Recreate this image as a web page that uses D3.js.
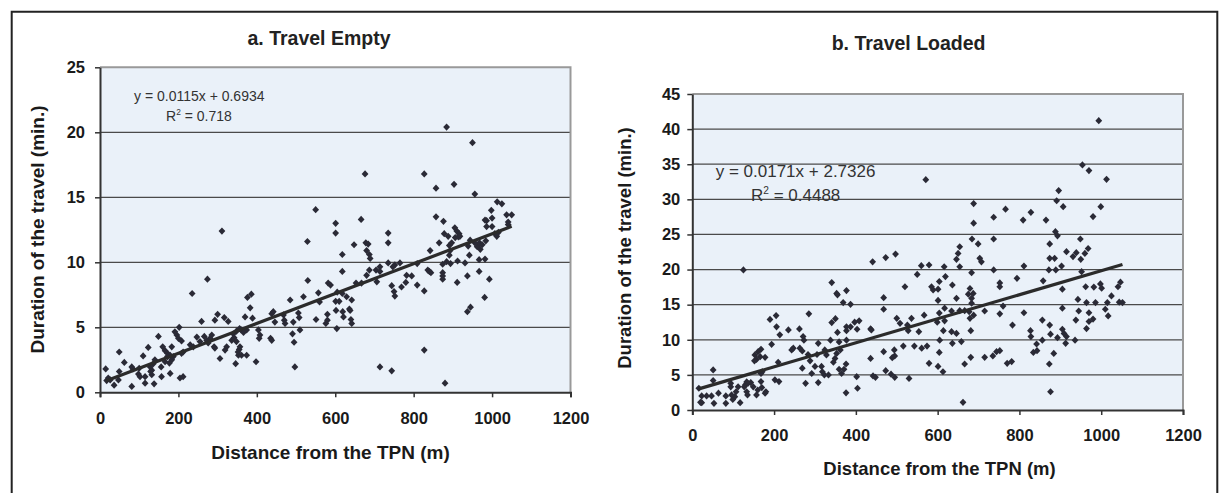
<!DOCTYPE html>
<html>
<head>
<meta charset="utf-8">
<script src="https://cdn.jsdelivr.net/npm/d3@7"></script>
<style>
  body { margin: 0; background: #fff; }
  svg { display: block; font-family: Arial, "Liberation Sans", sans-serif; }
</style>
</head>
<body>
<div id="vis"></div>
<script>
// Travel time vs distance from the TPN, two scatter panels with linear fits

const xTicks = [0, 200, 400, 600, 800, 1000, 1200];
const emptyYTicks = [0, 5, 10, 15, 20, 25];
const loadedYTicks = [0, 5, 10, 15, 20, 25, 30, 35, 40, 45];

// [distance (m), duration (min)]
const emptyPoints = [
  [676,16.8],[550,14.05],[601,13.0],[601,12.25],[666,13.3],[311,12.4],[735,12.25],
  [529,11.6],[618,10.6],[648,11.35],[678,11.5],[684,11.4],[680,10.9],[687,10.6],[689,10.3],[735,11.5],
  [618,9.3],[274,8.7],[235,7.6],[376,7.3],[386,7.55],[383,6.5],[530,8.6],[485,7.1],[519,7.35],
  [557,7.65],[560,6.95],[582,8.4],[588,8.25],[605,7.7],[601,7.0],[610,7.0],[618,7.6],[629,7.35],
  [636,6.4],[638,6.3],[640,5.6],[642,5.3],[619,6.2],[621,5.8],[653,8.4],[667,8.4],[680,9.0],
  [687,9.4],[704,9.4],[714,9.65],[706,8.5],[735,9.95],[642,7.1],[602,6.3],[580,6.0],[580,5.55],
  [576,5.3],[604,4.9],[551,5.6],[506,6.1],[508,5.75],[468,5.95],[470,5.55],[472,5.3],[493,5.4],
  [491,4.5],[495,3.85],[510,4.8],[497,1.95],[435,4.15],[438,4.0],[438,6.05],[442,6.2],[446,5.4],
  [408,4.4],[406,4.15],[404,4.8],[389,5.7],[370,5.8],[374,4.8],[398,2.35],[374,2.85],[361,2.85],
  [353,2.85],[346,2.2],[357,3.5],[355,3.3],[352,3.1],[340,4.5],[348,4.7],[356,4.9],[360,4.8],
  [366,4.6],[336,4.0],[342,4.2],[348,3.9],[319,3.25],[323,3.5],[306,2.6],[300,6.0],[293,5.55],
  [317,5.75],[327,5.45],[285,4.4],[281,4.15],[291,3.5],[293,3.4],[266,4.3],[272,4.0],[276,3.8],
  [259,5.45],[247,4.25],[255,3.9],[230,3.65],[238,3.5],[202,5.0],[196,4.4],[200,4.15],[208,3.95],
  [191,4.65],[208,3.0],[212,3.1],[204,1.1],[212,1.2],[187,2.75],[183,3.5],[172,3.0],[179,2.85],
  [183,2.5],[160,3.5],[166,3.2],[172,2.75],[177,2.25],[179,1.45],[166,2.35],[156,1.95],[149,4.3],
  [157,1.2],[140,2.5],[136,2.2],[132,1.7],[132,1.35],[123,3.45],[128,1.95],[129,1.6],[138,0.65],
  [115,1.2],[115,0.7],[110,2.8],[100,1.85],[98,1.4],[102,1.2],[81,1.95],[84,1.8],[81,0.45],
  [62,2.3],[49,3.1],[49,1.6],[47,0.95],[36,0.55],[21,1.1],[26,0.95],[17,0.9],[14.5,1.8],
  [884,20.4],[950,19.2],[827,16.8],[903,16.0],[857,15.7],[956,15.25],[1013,14.65],[1025,14.5],
  [998,14.0],[1000,13.4],[986,13.2],[986,12.75],[1000,12.75],[1050,13.65],[1037,13.65],[1041,13.1],
  [1041,12.9],[857,13.5],[876,13.15],[982,13.25],
  [878,12.2],[888,12.0],[891,11.3],[897,11.5],[905,12.65],[910,12.4],[916,12.2],[906,11.9],
  [914,11.95],[918,12.0],[865,11.5],[842,10.9],[893,10.9],[891,10.55],[939,11.25],[942,10.55],
  [962,11.2],[968,11.5],[975,11.35],[970,11.0],[984,11.65],[1007,12.2],[1016,12.3],[1012,12.0],
  [956,11.5],[944,11.7],[752,9.8],[765,9.95],[747,9.65],[714,9.3],[782,9.0],[795,8.95],[809,9.9],
  [836,9.4],[840,9.3],[844,9.2],[874,9.85],[874,9.2],[874,8.95],[874,8.7],[884,10.05],[894,9.9],
  [912,10.1],[931,9.95],[911,8.45],[937,8.95],[967,9.3],[967,10.2],[982,10.25],[993,8.7],[981,7.3],
  [937,6.2],[945,6.55],[744,8.2],[750,7.75],[752,7.4],[769,8.1],[780,8.45],[809,8.25],[827,7.8],
  [714,1.95],[744,1.65],[827,3.25],[880,0.7]
];

const loadedPoints = [
  [571,32.8],
  [994,41.2],[954,34.9],[970,34.1],[1013,32.85],[896,31.25],[891,29.8],[907,28.95],[999,28.95],
  [980,27.55],[688,29.4],[688,26.6],[766,28.6],[737,27.45],[809,27.05],[828,28.15],[865,27.05],
  [888,25.4],[893,24.8],[949,24.35],[684,24.35],[737,24.35],
  [125,19.95],[441,21.1],[473,21.7],[497,22.2],[550,19.3],[560,20.55],[579,20.65],[616,20.4],
  [341,18.15],[353,16.6],[355,16.4],[377,17.0],[369,15.3],[387,15.05],[520,17.55],[468,16.0],
  [468,14.35],[500,13.05],[508,12.35],[567,13.5],[585,17.55],[589,17.1],[601,17.2],[601,15.6],
  [604,18.3],[536,13.05],[526,12.1],[528,11.3],[554,11.15],[543,9.1],[561,8.8],[516,9.1],[494,8.55],
  [495,7.7],[489,7.45],[468,8.3],[473,5.6],[486,5.1],[495,4.65],[530,4.5],[579,6.65],[599,12.5],
  [605,9.95],[604,8.2],[613,5.45],[604,13.8],[574,9.1],[436,11.55],[438,11.4],[436,7.35],[442,4.85],
  [448,4.65],[408,12.7],[397,12.5],[403,11.5],[387,11.85],[377,11.85],[377,11.3],[377,9.95],
  [376,6.55],[371,5.8],[359,9.7],[362,8.55],[353,8.05],[349,7.35],[345,6.8],[341,12.45],[350,13.0],
  [355,11.05],[338,9.95],[365,5.2],[359,5.8],[376,2.45],[404,3.1],[402,4.75],[324,8.55],[328,7.85],
  [323,5.0],[333,5.0],[308,9.5],[305,7.9],[308,3.9],[316,6.2],[318,5.45],[300,6.2],[292,5.2],
  [283,7.9],[288,7.0],[277,3.8],[269,5.95],[269,8.4],[263,8.8],[262,11.55],[285,13.7],[273,9.95],
  [271,10.45],[243,8.55],[247,8.8],[235,11.4],[214,10.7],[212,4.05],[202,4.3],[206,11.85],
  [205,13.45],[190,12.9],[194,9.35],[210,6.8],[168,5.2],[171,5.45],[178,7.5],[168,8.65],[161,8.3],
  [153,7.85],[157,7.2],[152,7.0],[166,7.6],[178,2.4],[180,2.6],[170,3.2],[168,4.05],[157,2.15],
  [160,2.85],[149,3.3],[143,3.9],[130,3.6],[133,4.0],[136,3.8],[135,2.15],[133,2.6],[127,3.3],
  [117,1.05],[112,3.3],[107,2.6],[104,1.9],[99,1.5],[96,2.15],[94,3.3],[94,3.8],[82,2.0],[82,0.95],
  [64,2.4],[51,4.2],[51,5.7],[53,0.95],[47,2.0],[35,2.0],[23,2.0],[23,1.05],[20,1.1],[16,3.1],
  [699,23.65],[654,23.25],[650,22.3],[646,21.45],[654,20.4],[703,21.6],[707,21.1],[737,19.95],
  [683,19.55],[619,19.0],[636,17.8],[646,15.9],[617,14.5],[634,14.1],[617,12.7],[654,14.15],
  [666,14.15],[677,14.0],[679,13.05],[688,13.5],[683,15.2],[683,15.9],[687,16.6],[679,17.3],
  [675,16.5],[614,11.3],[601,6.2],[636,9.5],[658,9.75],[634,11.15],[646,10.9],[681,11.3],[681,7.5],
  [666,6.55],[662,1.1],[715,14.1],[752,18.1],[752,17.55],[760,14.8],[752,13.7],[783,12.1],[770,6.65],
  [781,6.9],[715,7.5],[735,7.7],[744,8.3],[752,8.45],[794,18.75],[811,20.5],[811,13.85],[827,11.3],
  [828,10.45],[842,9.4],[834,8.2],[843,8.45],[856,9.95],[856,12.8],[874,12.1],[876,10.8],[884,8.05],
  [873,6.55],[893,10.3],[905,11.5],[909,10.9],[915,10.45],[913,9.5],[905,14.5],[905,17.2],[876,2.6],
  [858,18.4],[872,19.95],[874,21.6],[886,21.6],[889,19.95],[874,23.65],[903,20.5],[915,22.55],
  [931,21.85],[939,22.4],[950,21.45],[960,22.3],[968,23.0],[952,19.7],[938,12.8],[945,14.1],
  [962,17.55],[964,15.3],[970,13.85],[980,12.95],[982,17.5],[986,15.3],[998,17.95],[1001,17.35],
  [1010,14.35],[1017,13.4],[1025,16.25],[1015,15.3],[1041,17.55],[1047,18.2],[1044,15.35],
  [1052,15.3],[943,15.75],[964,11.6],[970,12.6],[936,9.95]
];

// regression results printed on the chart
const emptyFit = { slope: 0.0115, intercept: 0.6934, eq: "y = 0.0115x + 0.6934", r2: "0.718" };
const loadedFit = { slope: 0.0171, intercept: 2.7326, eq: "y = 0.0171x + 2.7326", r2: "0.4488" };

const width = 1219;
const height = 493;

const svg = d3.select("#vis")
  .append("svg")
  .attr("width", width)
  .attr("height", height);

// outer frame (open at the bottom)
svg.append("path")
  .attr("d", "M11.7,495 V11.7 H1217.3 V495")
  .attr("fill", "none")
  .attr("stroke", "#222")
  .attr("stroke-width", 2);

const diamond = "M0,-3.6 L3.4,0 L0,3.6 L-3.4,0 Z";

function drawPanel(opt) {
  const x = d3.scaleLinear().domain([0, 1200]).range([opt.left, opt.right]);
  const y = d3.scaleLinear().domain([0, d3.max(opt.yTicks)]).range([opt.bottom, opt.top]);
  const g = svg.append("g");

  // plot background
  g.append("rect")
    .attr("x", opt.left)
    .attr("y", opt.top)
    .attr("width", opt.right - opt.left)
    .attr("height", opt.bottom - opt.top)
    .attr("fill", "#eaf1f9");

  // horizontal grid lines
  g.selectAll("line.grid")
    .data(opt.yTicks.slice(1, -1))
    .enter()
    .append("line")
    .attr("class", "grid")
    .attr("x1", opt.left)
    .attr("x2", opt.right)
    .attr("y1", d => y(d))
    .attr("y2", d => y(d))
    .attr("stroke", "#4a4a4a")
    .attr("stroke-width", 1.3);

  // top and right border in grey
  g.append("path")
    .attr("d", `M${opt.left},${opt.top} H${opt.right} V${opt.bottom}`)
    .attr("fill", "none")
    .attr("stroke", "#999")
    .attr("stroke-width", 2);

  // axes
  const xAxis = g.append("g")
    .attr("transform", `translate(0,${opt.bottom})`)
    .call(d3.axisBottom(x).tickValues(xTicks).tickFormat(d3.format("d"))
      .tickSize(5).tickSizeOuter(5).tickPadding(opt.xPad));
  const yAxis = g.append("g")
    .attr("transform", `translate(${opt.left},0)`)
    .call(d3.axisLeft(y).tickValues(opt.yTicks).tickFormat(d3.format("d"))
      .tickSize(5).tickSizeOuter(0).tickPadding(opt.yPad));

  [xAxis, yAxis].forEach(a => {
    a.select(".domain").attr("stroke", "#333").attr("stroke-width", 2);
    a.selectAll(".tick line").attr("stroke", "#333").attr("stroke-width", 1.5);
    a.selectAll(".tick text")
      .attr("fill", "#1a1a1a")
      .style("font-size", "16.5px")
      .style("font-weight", "bold");
    a.attr("font-family", null);
  });

  // points
  g.selectAll("path.pt")
    .data(opt.points)
    .enter()
    .append("path")
    .attr("class", "pt")
    .attr("d", diamond)
    .attr("transform", d => `translate(${x(d[0])},${y(d[1])})`)
    .attr("fill", "#2a2a36");

  // linear trend line over the data range
  const ext = d3.extent(opt.points, d => d[0]);
  g.append("line")
    .attr("x1", x(ext[0]))
    .attr("y1", y(opt.fit.slope * ext[0] + opt.fit.intercept))
    .attr("x2", x(ext[1]))
    .attr("y2", y(opt.fit.slope * ext[1] + opt.fit.intercept))
    .attr("stroke", "#2b2b2b")
    .attr("stroke-width", 3.2)
    .attr("stroke-linecap", "butt");

  // equation and R²
  g.append("text")
    .attr("x", opt.eqX)
    .attr("y", opt.eqY)
    .attr("fill", "#333")
    .style("font-size", opt.eqSize + "px")
    .text(opt.fit.eq);

  const r2 = g.append("text")
    .attr("x", opt.r2X)
    .attr("y", opt.r2Y)
    .attr("fill", "#333")
    .style("font-size", opt.eqSize + "px");
  r2.append("tspan").text("R");
  r2.append("tspan")
    .attr("dy", -opt.eqSize * 0.4)
    .style("font-size", (opt.eqSize * 0.6) + "px")
    .text("2");
  r2.append("tspan")
    .attr("dy", opt.eqSize * 0.4)
    .text(" = " + opt.fit.r2);

  // title
  svg.append("text")
    .attr("x", opt.titleX)
    .attr("y", opt.titleY)
    .attr("text-anchor", "middle")
    .attr("fill", "#222")
    .style("font-size", "19.5px")
    .style("font-weight", "bold")
    .text(opt.title);

  // x-axis label
  svg.append("text")
    .attr("x", opt.xLabX)
    .attr("y", opt.xLabY)
    .attr("text-anchor", "middle")
    .attr("fill", "#1a1a1a")
    .style("font-size", opt.labSize + "px")
    .style("font-weight", "bold")
    .text("Distance from the TPN (m)");

  // y-axis label
  svg.append("text")
    .attr("transform", `translate(${opt.yLabX},${opt.yLabY}) rotate(-90)`)
    .attr("text-anchor", "middle")
    .attr("fill", "#1a1a1a")
    .style("font-size", opt.labSize + "px")
    .style("font-weight", "bold")
    .text("Duration of the travel (min.)");
}

drawPanel({
  title: "a. Travel Empty",
  points: emptyPoints,
  fit: emptyFit,
  yTicks: emptyYTicks,
  left: 100, right: 570.5, top: 67.3, bottom: 392.3,
  xPad: 15, yPad: 10,
  eqX: 134, eqY: 100.5, r2X: 166, r2Y: 121, eqSize: 14,
  titleX: 319, titleY: 44.5,
  xLabX: 330.5, xLabY: 459, yLabX: 43.5, yLabY: 229.5, labSize: 19
});

drawPanel({
  title: "b. Travel Loaded",
  points: loadedPoints,
  fit: loadedFit,
  yTicks: loadedYTicks,
  left: 692.3, right: 1183, top: 94, bottom: 410,
  xPad: 14, yPad: 7,
  eqX: 715.7, eqY: 177.3, r2X: 751, r2Y: 200.7, eqSize: 17,
  titleX: 908.6, titleY: 49.5,
  xLabX: 939.5, xLabY: 474.5, yLabX: 631, yLabY: 248, labSize: 18.5
});
</script>
</body>
</html>
